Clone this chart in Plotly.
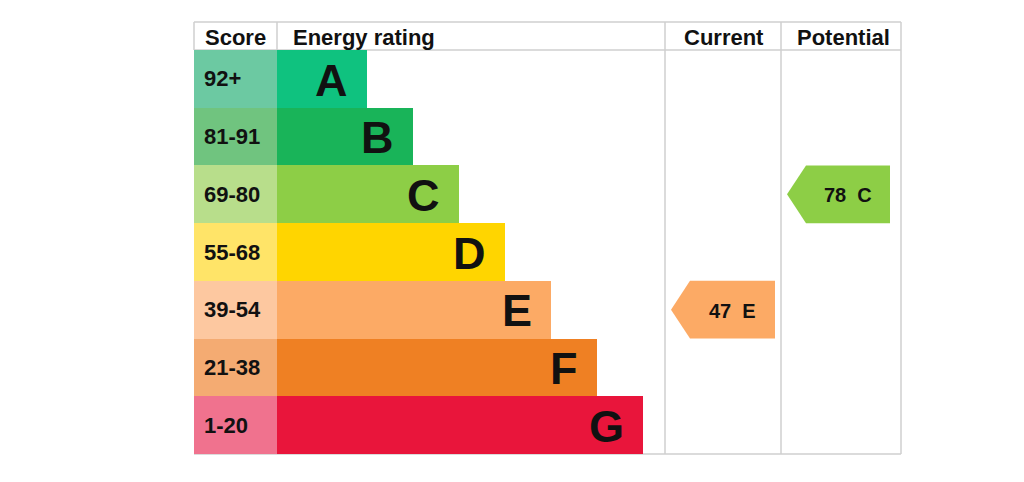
import plotly.graph_objs as go

# rating bands, top (best) to bottom
bands = ["A", "B", "C", "D", "E", "F", "G"]
score_ranges = ["92+", "81-91", "69-80", "55-68", "39-54", "21-38", "1-20"]
band_steps = [1, 2, 3, 4, 5, 6, 7]
band_colors = ["#0fc27f", "#19b459", "#8dce46", "#ffd500", "#fcaa65", "#ef8023", "#e9153b"]
score_colors = ["#6cc9a2", "#70c47f", "#b8de8b", "#ffe468", "#fdc8a0", "#f4ab72", "#f0728e"]

current_score = 47
current_band = "E"
potential_score = 78
potential_band = "C"

headers = ["Score", "Energy rating", "Current", "Potential"]

# layout in page pixels (x) and rows (y); the page body has an 8px margin
ROW_H = 57.714
HEAD_H = 28 / ROW_H
LEFT, SCORE_R, BAR_R, CUR_R, RIGHT = 194, 277, 665, 781, 901
OFF = 8
W, H = 1024 - OFF, 482 - OFF
FONT = "Liberation Sans"
GRID = "#cfcfcf"

rows = list(range(len(bands)))


def bar_len(step):
    return 44 + 46 * step


fig = go.Figure()

fig.add_trace(go.Bar(
    y=rows, x=[SCORE_R - LEFT] * len(rows), base=LEFT, orientation="h", width=1,
    marker=dict(color=score_colors, line_width=0), hoverinfo="skip", showlegend=False,
))
fig.add_trace(go.Bar(
    y=rows, x=[bar_len(s) for s in band_steps], base=SCORE_R, orientation="h", width=1,
    marker=dict(color=band_colors, line_width=0), hoverinfo="skip", showlegend=False,
))


def arrow(score, band, x0, x1):
    i = bands.index(band)
    tip = 19
    xs = [x0, x0 + tip, x1, x1, x0 + tip, x0]
    ys = [i, i - 0.5, i - 0.5, i + 0.5, i + 0.5, i]
    fig.add_trace(go.Scatter(
        x=xs, y=ys, fill="toself", mode="lines", line_width=0,
        fillcolor=band_colors[i], hoverinfo="skip", showlegend=False,
    ))
    fig.add_annotation(x=(x0 + tip + x1) / 2, y=i + 0.02, text=f"{score}  {band}",
                       showarrow=False, xanchor="center", yanchor="middle",
                       font=dict(family=FONT, size=20, color="#111", weight="bold"))


arrow(current_score, current_band, 671, 775)
arrow(potential_score, potential_band, 787, 890)

# score labels and band letters
for i in rows:
    fig.add_annotation(x=LEFT + 8, y=i, text=score_ranges[i], showarrow=False,
                       xanchor="left", yanchor="middle",
                       font=dict(family=FONT, size=22, color="#111", weight="bold"))
    fig.add_annotation(x=SCORE_R + bar_len(band_steps[i]) - 17, y=i + 0.02, text=bands[i],
                       showarrow=False, xanchor="right", yanchor="middle",
                       font=dict(family=FONT, size=45, color="#111", weight="bold"))

# header texts
hy = -0.5 - HEAD_H / 2 + 0.02
head_pos = [(LEFT + 9, "left"), (SCORE_R + 14, "left"),
            ((BAR_R + CUR_R) / 2 + 1, "center"), ((CUR_R + RIGHT) / 2 + 2, "center")]
for t, (hx, anc) in zip(headers, head_pos):
    fig.add_annotation(x=hx, y=hy, text=t, showarrow=False, xanchor=anc, yanchor="middle",
                       font=dict(family=FONT, size=22, color="#111", weight="bold"))

# grid lines
top = -0.5 - HEAD_H
bottom = len(bands) - 0.5
lines = [
    (LEFT, top, RIGHT, top),
    (LEFT, -0.5, RIGHT, -0.5),
    (LEFT, bottom, RIGHT, bottom),
    (LEFT, top, LEFT, -0.5),
    (SCORE_R, top, SCORE_R, -0.5),
    (BAR_R, top, BAR_R, bottom),
    (CUR_R, top, CUR_R, bottom),
    (RIGHT, top, RIGHT, bottom),
]
for x0, y0, x1, y1 in lines:
    fig.add_shape(type="line", x0=x0, y0=y0, x1=x1, y1=y1, xref="x", yref="y",
                  line=dict(color=GRID, width=1.5), layer="below")

fig.update_layout(
    width=W, height=H,
    margin=dict(l=0, r=0, t=0, b=0),
    paper_bgcolor="white", plot_bgcolor="white",
    barmode="overlay", bargap=0,
    xaxis=dict(range=[OFF, OFF + W], visible=False, fixedrange=True),
    yaxis=dict(range=[(OFF + H - 50) / ROW_H - 0.5, (OFF - 50) / ROW_H - 0.5],
               visible=False, fixedrange=True),
)

fig.write_html("out.html", config={"displayModeBar": False})
